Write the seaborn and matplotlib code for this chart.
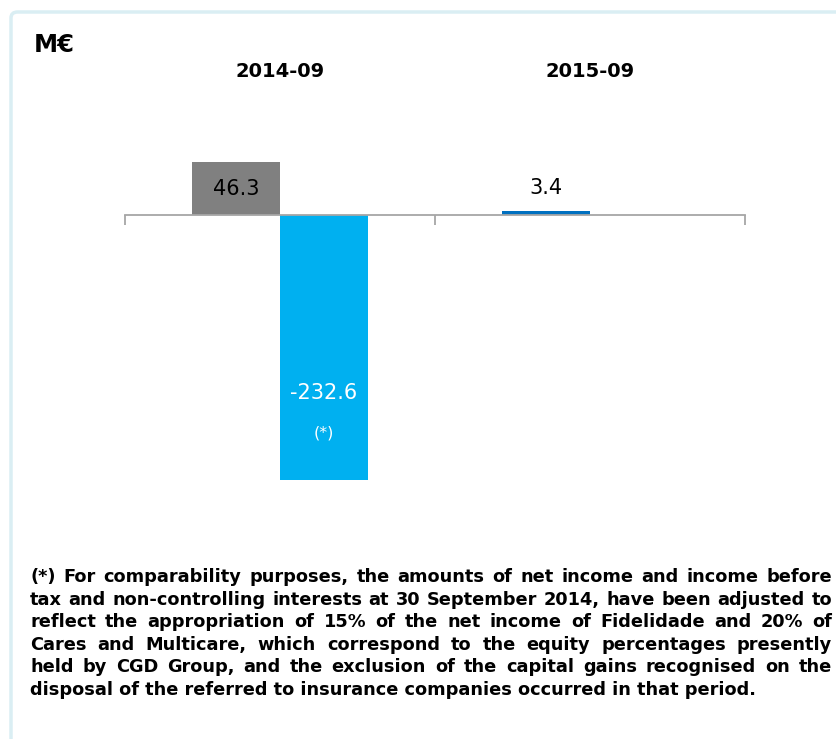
import numpy as np
import pandas as pd
import matplotlib
matplotlib.use("Agg")
import matplotlib.pyplot as plt
from matplotlib.patches import FancyBboxPatch
import seaborn as sns

# ---- data -------------------------------------------------------------
periods = ["2014-09", "2015-09"]
series_a = [46.3, 3.4]          # first bar of each period
series_b = [-232.6, np.nan]     # second bar of each period
colors_a = ["#808080", "#0070C0"]
colors_b = ["#00B0F0", "#00B0F0"]
label_colors_a = ["black", "black"]
label_colors_b = ["white", "white"]
notes_b = ["(*)", ""]

footnote_lines = [
    "(*) For comparability purposes, the amounts of net income and income before",
    "tax and non-controlling interests at 30 September 2014, have been adjusted to",
    "reflect the appropriation of 15% of the net income of Fidelidade and 20% of",
    "Cares and Multicare, which correspond to the equity percentages presently",
    "held by CGD Group, and the exclusion of the capital gains recognised on the",
    "disposal of the referred to insurance companies occurred in that period.",
]

df = pd.DataFrame({
    "period": periods * 2,
    "series": ["A"] * len(periods) + ["B"] * len(periods),
    "value": series_a + series_b,
})

# ---- figure -----------------------------------------------------------
sns.set_theme(style="white")
plt.rcParams["font.family"] = ["DejaVu Sans"]
plt.rcParams["text.color"] = "black"
plt.rcParams["xtick.color"] = "black"

W, H, DPI = 836, 739, 100
fig = plt.figure(figsize=(W / DPI, H / DPI), dpi=DPI)

def px_x(x):
    return x / W

def px_y(y):
    return 1 - y / H

# light frame around the slide area
frame = FancyBboxPatch((px_x(11), px_y(760)), px_x(900), px_y(12) - px_y(760),
                       boxstyle="round,pad=0,rounding_size=0.008",
                       transform=fig.transFigure, fill=False,
                       edgecolor="#DAEEF3", linewidth=2.5, clip_on=False)
fig.patches.append(frame)

ax_top, ax_bot = 100, 500
ax = fig.add_axes([px_x(125), px_y(ax_bot), px_x(745) - px_x(125),
                   px_y(ax_top) - px_y(ax_bot)])

sns.barplot(data=df, x="period", y="value", hue="series", order=periods,
            hue_order=["A", "B"], width=0.565, dodge=True, legend=False,
            errorbar=None, ax=ax, linewidth=0, saturation=1)

scale = 1.14  # pixels per unit
zero_px = 215
ax.set_ylim(-(ax_bot - zero_px) / scale, (zero_px - ax_top) / scale)
ax.set_xlim(-0.5, len(periods) - 0.5)

# colour each bar by its period and position in the group
for p in ax.patches:
    cx = p.get_x() + p.get_width() / 2
    i = int(round(cx))
    if cx < i:
        p.set_facecolor(colors_a[i])
    else:
        p.set_facecolor(colors_b[i])
    p.set_edgecolor("none")

# ---- axes styling -----------------------------------------------------
for s in ["top", "right", "left"]:
    ax.spines[s].set_visible(False)
ax.spines["bottom"].set_position(("data", 0))
ax.spines["bottom"].set_color("#A6A6A6")
ax.spines["bottom"].set_linewidth(1.3)
ax.set_yticks([])
ax.set_xticks(np.arange(-0.5, len(periods)))
ax.set_xticklabels([])
ax.tick_params(axis="x", direction="out", length=7, width=1.3,
               color="#A6A6A6", bottom=True)
ax.set_xlabel("")
ax.set_ylabel("")
ax.patch.set_alpha(0)

sec = ax.secondary_xaxis("top")
sec.set_xticks(range(len(periods)))
sec.set_xticklabels(periods, fontsize=14, fontweight="bold", color="black")
sec.tick_params(length=0, pad=14)
sec.spines["top"].set_visible(False)

# ---- value labels -----------------------------------------------------
offset = 0.565 / 4
val_size = 15
for i, v in enumerate(series_a):
    x = i - offset
    if v > 10:
        ax.text(x, v / 2, f"{v:.1f}", ha="center", va="center",
                fontsize=val_size, color=label_colors_a[i])
    else:
        ax.annotate(f"{v:.1f}", (x, v), xytext=(0, 17),
                    textcoords="offset points", ha="center", va="center",
                    fontsize=val_size, color=label_colors_a[i])
for i, v in enumerate(series_b):
    if np.isnan(v):
        continue
    x = i + offset
    ax.annotate(f"{v:.1f}", (x, v), xytext=(0, 63),
                textcoords="offset points", ha="center", va="center",
                fontsize=val_size, color=label_colors_b[i])
    if notes_b[i]:
        ax.annotate(notes_b[i], (x, v), xytext=(0, 34),
                    textcoords="offset points", ha="center", va="center",
                    fontsize=11.5, color=label_colors_b[i])

# unit label
fig.text(px_x(34), px_y(45), "M€", fontsize=17.5, fontweight="bold",
         ha="left", va="center")

# ---- justified footnote -----------------------------------------------
renderer = fig.canvas.get_renderer()
fn_size = 12.8
left_px, right_px = 30, 832
y0, dy = 577, 22.6
for k, line in enumerate(footnote_lines):
    y = px_y(y0 + k * dy)
    words = line.split(" ")
    if k == len(footnote_lines) - 1:
        fig.text(px_x(left_px), y, line, fontsize=fn_size, fontweight="bold",
                 ha="left", va="center")
        continue
    texts = [fig.text(0, y, w, fontsize=fn_size, fontweight="bold",
                      ha="left", va="center") for w in words]
    widths = [t.get_window_extent(renderer).width for t in texts]
    gap = (right_px - left_px - sum(widths)) / (len(words) - 1)
    x = left_px
    for t, w in zip(texts, widths):
        t.set_x(px_x(x))
        x += w + gap

fig.savefig("out.png", dpi=DPI)
